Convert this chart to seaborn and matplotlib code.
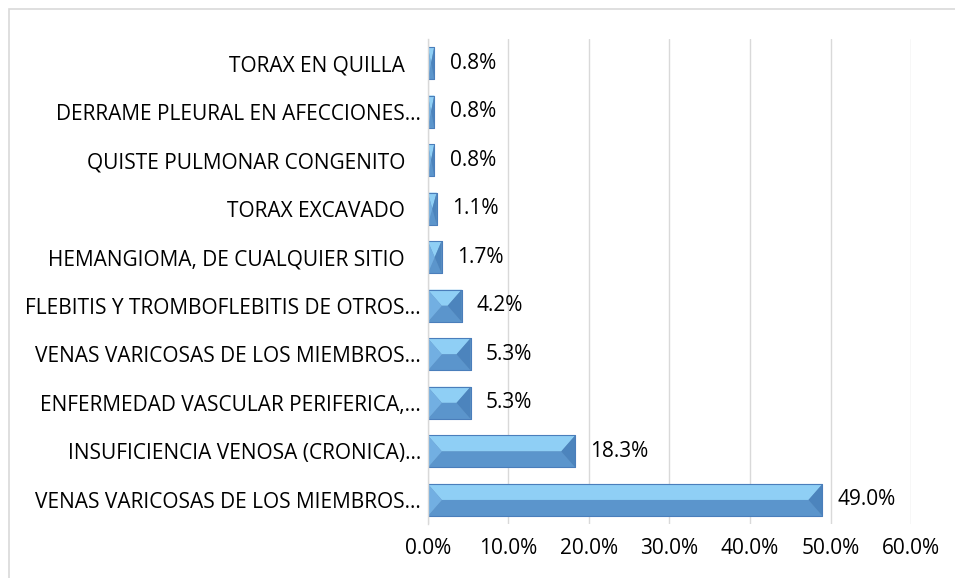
import numpy as np
import pandas as pd
import matplotlib
matplotlib.use("Agg")
import matplotlib.pyplot as plt
from matplotlib.patches import Polygon, Rectangle
import matplotlib.transforms as mtransforms
import seaborn as sns

# Chart data
categories = [
    "TORAX EN QUILLA",
    "DERRAME PLEURAL EN AFECCIONES…",
    "QUISTE PULMONAR CONGENITO",
    "TORAX EXCAVADO",
    "HEMANGIOMA, DE CUALQUIER SITIO",
    "FLEBITIS Y TROMBOFLEBITIS DE OTROS…",
    "VENAS VARICOSAS DE LOS MIEMBROS…",
    "ENFERMEDAD VASCULAR PERIFERICA,…",
    "INSUFICIENCIA VENOSA (CRONICA)…",
    "VENAS VARICOSAS DE LOS MIEMBROS…",
]
percentages = [0.8, 0.8, 0.8, 1.1, 1.7, 4.2, 5.3, 5.3, 18.3, 49.0]
x_ticks = [0, 10, 20, 30, 40, 50, 60]

df = pd.DataFrame({"label": [f"{i}" for i in range(len(categories))],
                   "pct": percentages})

sns.set_style("white")
plt.rcParams["font.family"] = ["Open Sans", "DejaVu Sans"]
FS = 15

fig = plt.figure(figsize=(9.55, 5.78), dpi=100)
ax = fig.add_axes([0.448, 0.093, 0.506, 0.840])

sns.barplot(data=df, x="pct", y="label", orient="h", color="#5B9BD5",
            width=0.66, ax=ax, edgecolor="#4A7EBB", linewidth=0.6)

ax.set_xlim(0, 60)
ax.set_xticks(x_ticks)
ax.set_xticklabels([f"{t:.1f}%" for t in x_ticks], fontsize=FS, color="#000000")
ax.set_yticks(range(len(categories)))
ax.set_yticklabels(categories, fontsize=FS, color="#000000")
ax.tick_params(axis="both", length=0)
ax.tick_params(axis="x", pad=10)
ax.tick_params(axis="y", pad=5)
ax.set_xlabel("")
ax.set_ylabel("")
ax.xaxis.grid(True, color="#D9D9D9", linewidth=1)
ax.set_axisbelow(True)
for s in ["top", "right", "bottom"]:
    ax.spines[s].set_visible(False)
ax.spines["left"].set_color("#D9D9D9")
ax.spines["left"].set_linewidth(1)

# full (non-truncated) labels keep a trailing space gap like the original
for lbl in ax.get_yticklabels():
    if not lbl.get_text().endswith("…"):
        lbl.set_transform(lbl.get_transform() +
                          mtransforms.ScaledTranslation(-16 / 100, 0, fig.dpi_scale_trans))

# bevel effect on each bar, computed from the bar patches in pixel space
fig.canvas.draw()
to_px = ax.transData
to_data = ax.transData.inverted()
for p in list(ax.patches):
    x0, y0 = p.get_x(), p.get_y()
    w, h = p.get_width(), p.get_height()
    (X0, Ya), (X1, Yb) = to_px.transform([(x0, y0), (x0 + w, y0 + h)])
    Ytop, Ybot = max(Ya, Yb), min(Ya, Yb)
    Ym = (Ytop + Ybot) / 2
    bx = min(14, (X1 - X0) / 2)
    facets = [
        ([(X0, Ytop), (X1, Ytop), (X1 - bx, Ym), (X0 + bx, Ym)], "#8FCFF5"),
        ([(X0, Ybot), (X1, Ybot), (X1 - bx, Ym), (X0 + bx, Ym)], "#5B95CC"),
        ([(X0, Ytop), (X0 + bx, Ym), (X0, Ybot)], "#72AFE2"),
        ([(X1, Ytop), (X1 - bx, Ym), (X1, Ybot)], "#4C84BD"),
    ]
    for pts, col in facets:
        ax.add_patch(Polygon(to_data.transform(pts), closed=True,
                             facecolor=col, edgecolor="none", zorder=p.get_zorder() + 0.1))
    ax.add_patch(Rectangle((x0, y0), w, h, facecolor="none", edgecolor="#4A7EBB",
                           linewidth=0.8, zorder=p.get_zorder() + 0.2))

# value labels
for i, v in enumerate(percentages):
    ax.annotate(f"{v:.1f}%", (v, i), xytext=(11, 0), textcoords="offset points",
                va="center", ha="left", fontsize=FS, color="#000000")

# chart border
fig.patches.append(Rectangle((9 / 955, -0.1), 1.2, 1 - 9 / 578 + 0.1,
                             transform=fig.transFigure, fill=False,
                             edgecolor="#D9D9D9", linewidth=1.2))

fig.savefig("out.png", dpi=100)
